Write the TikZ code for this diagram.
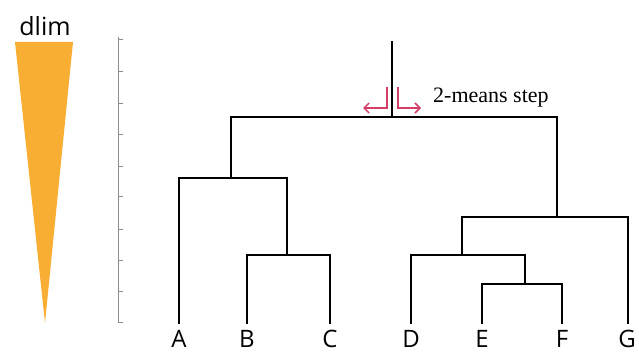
\documentclass[tikz,border=0pt]{standalone}
\usepackage{fontspec}
\setmainfont{Liberation Serif}
\newfontfamily\labelfont{Open Sans}
\usetikzlibrary{arrows.meta}
\definecolor{wedgeorange}{RGB}{248,173,51}
\definecolor{splitred}{RGB}{212,62,102}
\definecolor{axisgray}{RGB}{140,140,140}
\tikzset{
  branch/.style={line width=1.6pt, black, line cap=rect},
  axisline/.style={axisgray, line width=0.8pt},
  splitarrow/.style={splitred, line width=1.5pt, -{Straight Barb[length=5pt,width=10pt]}},
  toplabel/.style={font=\labelfont\fontsize{25}{25}\selectfont, anchor=base, inner sep=0pt},
  leaflabel/.style={font=\labelfont\fontsize{24}{24}\selectfont, anchor=base, inner sep=0pt},
}
\begin{document}
\begin{tikzpicture}[x=1pt,y=-1pt]
\useasboundingbox (0,0) rectangle (639,353);
% wedge and its label
\fill[wedgeorange] (15,42) -- (73,42) -- (45,323) -- cycle;
\node[toplabel] (dlim) at (45,36) {dlim};
% axis
\draw[axisline] (118,37) -- (118,323);
\foreach \ty in {39,71,103,134,166,196,229,260,291,322}
  \draw[axisline] (118,\ty) -- (123,\ty);
% leaves
\node[leaflabel] (A) at (179,347) {A};
\node[leaflabel] (B) at (247,347) {B};
\node[leaflabel] (C) at (330,347) {C};
\node[leaflabel] (D) at (411,347) {D};
\node[leaflabel] (E) at (482,347) {E};
\node[leaflabel] (F) at (562,347) {F};
\node[leaflabel] (G) at (627,347) {G};
\coordinate (a) at (179,323);
\coordinate (b) at (247,323);
\coordinate (c) at (330,323);
\coordinate (d) at (411,323);
\coordinate (e) at (482,323);
\coordinate (f) at (562,323);
\coordinate (g) at (628,323);
% merge points
\coordinate (bc) at (287,255);
\coordinate (abc) at (231,178);
\coordinate (ef) at (525,284);
\coordinate (def) at (462,255);
\coordinate (defg) at (557,217);
\coordinate (root) at (392,117);
\coordinate (top) at (392,42);
% branches
\draw[branch] (b) |- (bc) -| (c);
\draw[branch] (a) |- (abc) -| (bc);
\draw[branch] (e) |- (ef) -| (f);
\draw[branch] (d) |- (def) -| (ef);
\draw[branch] (def) |- (defg) -| (g);
\draw[branch] (abc) |- (root) -| (defg);
\draw[branch] (root) -- (top);
% 2-means step arrows
\coordinate (l0) at (387,87);
\coordinate (l1) at (363,108);
\coordinate (r0) at (398,87);
\coordinate (r1) at (421,108);
\draw[splitarrow] (l0) |- (l1);
\draw[splitarrow] (r0) |- (r1);
\node[anchor=base west, inner sep=0pt, font=\fontsize{22}{22}\selectfont] (step) at (433,102) {2-means step};
\end{tikzpicture}
\end{document}
